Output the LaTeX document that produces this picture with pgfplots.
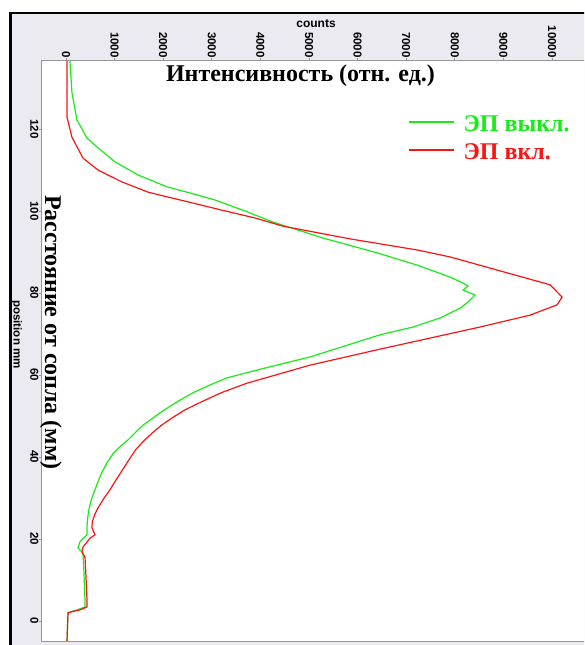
\documentclass[border=0pt]{standalone}
\usepackage{pgfplots}
\pgfplotsset{compat=1.18}
\usepackage{fontspec}
\setmainfont{Liberation Serif}
\setsansfont{Liberation Sans}
\definecolor{bgc}{RGB}{234,234,240}
\definecolor{cgreen}{RGB}{25,235,25}
\definecolor{cred}{RGB}{250,20,20}
\definecolor{axgray}{RGB}{150,150,150}
\begin{document}
\begin{tikzpicture}
\path[use as bounding box] (0pt,0pt) rectangle (584pt,645pt);
\begin{scope}
\clip (0pt,0pt) rectangle (584pt,645pt);
\fill[bgc] (10.5pt,-5pt) rectangle (600pt,632pt);
\draw[black, line width=2.3pt] (10.5pt,-5pt) -- (10.5pt,632pt) -- (600pt,632pt);
\begin{axis}[
  at={(41.5pt,4pt)}, anchor=south west,
  scale only axis, width=548.5pt, height=580pt,
  xmin=-504, xmax=10782, ymin=-4.9, ymax=136.6,
  axis background/.style={fill=white},
  axis line style={axgray, line width=1pt},
  xtick={0,1000,...,10000}, ytick={0,20,...,120},
  scaled x ticks=false, scaled y ticks=false,
  xtick pos=right, xticklabel pos=right, ytick pos=left,
  tick align=outside, major tick length=3pt,
  tick style={axgray, line width=0.8pt},
  /pgf/number format/assume math mode=true,
  /pgf/number format/1000 sep={},
  tick label style={font=\fontsize{11.5}{12}\selectfont\sffamily\bfseries, inner sep=0pt},
  xticklabel style={rotate=-90, anchor=east, /pgf/number format/fixed},
  yticklabel style={rotate=-90, anchor=north},
  legend style={draw=none, fill=none, at={(0.668,0.908)}, anchor=north west,
    inner sep=0pt, row sep=6pt,
    font=\fontsize{24}{24}\selectfont\bfseries,
    nodes={inner sep=0pt, text height=17pt, text depth=5pt}},
  legend cell align=left,
  legend image code/.code={\draw[#1] (0pt,3.5pt) -- (45pt,3.5pt); \path[draw=none] (0pt,0pt) -- (55pt,0pt);},
]
\addplot[cgreen, line width=1.2pt] coordinates {
(82,136.6) (123,128.8) (226,122.2) (432,117.8) (659,115.4) (1008,112.0)
(1482,108.8) (1729,107.6) (2079,105.9) (2552,104.4) (3066,102.7) (3684,100.0)
(4260,97.3) (5289,93.4)
(6400,89.8) (7224,86.8) (7903,83.9) (8170,82.4) (8273,81.7) (8170,80.7)
(8417,79.5) (8273,77.8) (8109,76.3) (7697,73.9) (7141,71.7) (6462,69.8)
(5742,67.1) (5022,64.4) (4095,61.7) (3313,59.3) (2950,57.5) (2620,55.7)
(2350,53.9) (2120,52.2) (1930,50.7) (1730,49.0) (1590,47.8) (1430,46.0)
(1270,44.1) (1110,42.5) (980,41.0) (840,38.5) (741,36.3) (660,34.0)
(597,32.0) (520,29.5) (470,27.1) (445,25.0) (432,22.9) (432,21.0) (288,19.3) (247,17.8)
(350,16.6) (370,11.7) (391,5.1) (391,3.4) (226,2.7) (41,2.0) (21,-4.9)
};
\addlegendentry{\textcolor{cgreen}{ЭП выкл.}}
\addplot[cred, line width=1.2pt] coordinates {
(21,136.6) (21,122.9) (123,118.0) (350,112.9) (659,110.0) (1152,107.1)
(1688,104.6) (2099,103.4) (2593,102.0) (3210,100.2) (3890,98.3) (4466,96.3)
(5845,93.2) (7224,90.5)
(7903,88.8) (8870,85.6) (9961,82.0) (10208,79.0) (10105,77.1) (9549,74.6)
(8520,71.7) (7491,69.0) (6462,66.3) (5022,62.4) (3725,58.0) (3200,55.7)
(2780,53.4) (2450,51.5) (2180,49.5) (1960,47.7) (1780,45.9) (1590,43.8)
(1430,41.7) (1290,39.2) (1160,36.8) (1030,34.4) (906,32.0) (780,29.9)
(670,27.8) (590,25.9) (540,24.1)
(535,22.7) (597,21.0) (494,20.2) (350,18.0) (329,16.8)
(391,15.6) (412,10.7) (432,5.1) (432,3.4) (288,2.7) (41,2.0) (21,-4.9)
};
\addlegendentry{\textcolor{cred}{ЭП вкл.}}
\end{axis}
\node[font=\fontsize{24}{24}\selectfont\bfseries, anchor=base, inner sep=0pt] at (300.5pt,563pt) {Интенсивность (отн. ед.)};
\node[font=\fontsize{24}{24}\selectfont\bfseries, anchor=base, rotate=-90, inner sep=0pt] at (45pt,312.5pt) {Расстояние от сопла (мм)};
\node[font=\fontsize{12}{12}\selectfont\sffamily\bfseries, anchor=base, inner sep=0pt] at (316pt,617pt) {counts};
\node[font=\fontsize{11.5}{12}\selectfont\sffamily\bfseries, anchor=base, rotate=-90, inner sep=0pt] at (13.5pt,310.5pt) {position mm};
\end{scope}
\end{tikzpicture}
\end{document}
